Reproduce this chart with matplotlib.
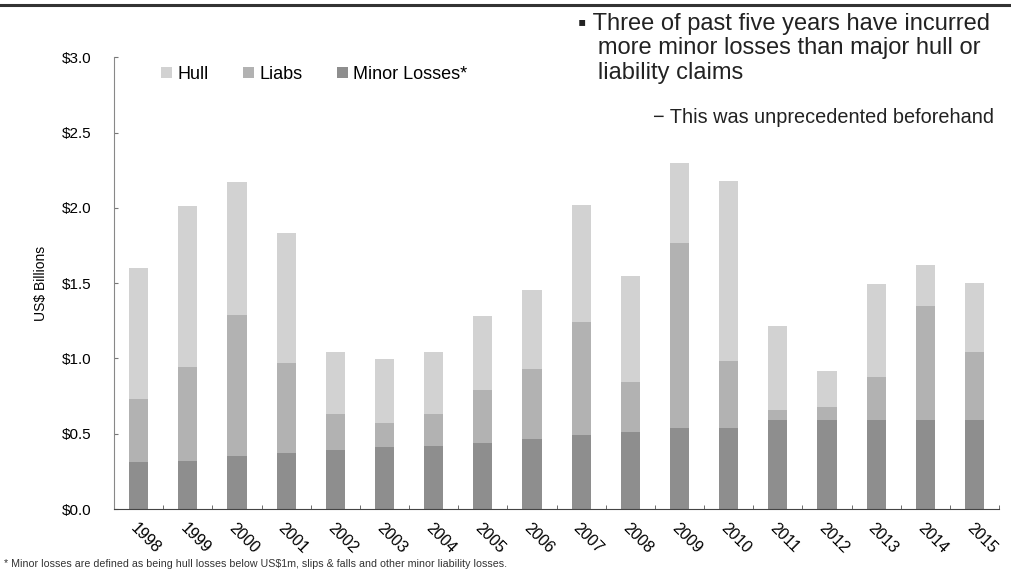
import matplotlib
matplotlib.use("Agg")
import matplotlib.pyplot as plt
import numpy as np

plt.rcParams['font.family'] = ['Liberation Sans', 'DejaVu Sans']

years = [str(y) for y in range(1998, 2016)]
# Stack boundaries per year: top of minor losses, top of liabilities, total
minor = [0.31, 0.32, 0.35, 0.37, 0.39, 0.41, 0.42, 0.44, 0.465, 0.49, 0.51, 0.54, 0.54, 0.59, 0.59, 0.59, 0.59, 0.59]
liabs_top = [0.73, 0.94, 1.29, 0.97, 0.63, 0.57, 0.63, 0.79, 0.93, 1.245, 0.845, 1.765, 0.98, 0.66, 0.68, 0.88, 1.345, 1.04]
totals = [1.60, 2.01, 2.17, 1.83, 1.04, 0.995, 1.04, 1.28, 1.455, 2.02, 1.545, 2.30, 2.18, 1.215, 0.915, 1.495, 1.62, 1.50]

liabs = [lt - m for lt, m in zip(liabs_top, minor)]
hull = [t - lt for t, lt in zip(totals, liabs_top)]

c_minor = '#8e8e8e'
c_liabs = '#b2b2b2'
c_hull = '#d2d2d2'

fig = plt.figure(figsize=(10.12, 5.72), dpi=100)
ax = fig.add_axes([0.1127, 0.110, 0.8745, 0.790])

x = np.arange(len(years))
w = 0.39
ax.bar(x, minor, w, color=c_minor, label='Minor Losses*')
ax.bar(x, liabs, w, bottom=minor, color=c_liabs, label='Liabs')
ax.bar(x, hull, w, bottom=liabs_top, color=c_hull, label='Hull')

ax.set_xlim(-0.5, len(years) - 0.5)
ax.set_ylim(0, 3.0)
ax.set_yticks(np.arange(0, 3.01, 0.5))
ax.set_yticklabels([f'${v:.1f}' for v in np.arange(0, 3.01, 0.5)], fontsize=11)
ax.tick_params(axis='y', direction='in', length=3, color='#777777', pad=16)

ax.set_xticks(x)
ax.set_xticklabels(years, rotation=-45, ha='left', va='top', rotation_mode='anchor', fontsize=11.5)
ax.tick_params(axis='x', length=0, pad=8)
ax.set_xticks(np.arange(-0.5, len(years), 1), minor=True)
ax.tick_params(axis='x', which='minor', direction='in', length=3, color='#555555')

for s in ['top', 'right']:
    ax.spines[s].set_visible(False)
ax.spines['left'].set_color('#888888')
ax.spines['bottom'].set_color('#444444')

ax.set_ylabel('US$ Billions', fontsize=10, labelpad=10)

handles, labels = ax.get_legend_handles_labels()
order = [2, 1, 0]
ax.legend([handles[i] for i in order], [labels[i] for i in order],
          loc='upper left', bbox_to_anchor=(0.035, 1.017), ncol=3, frameon=False,
          fontsize=13, handlelength=0.6, handleheight=0.6, handletextpad=0.3,
          columnspacing=1.9)

# Headline and notes
fig.add_artist(plt.Line2D([0, 1], [0.991, 0.991], color='#333333', lw=2.2))
fig.text(0.571, 0.978, '\u25aa Three of past five years have incurred\n   more minor losses than major hull or\n   liability claims',
         fontsize=17, va='top', ha='left', color='#222222', linespacing=1.16)
fig.text(0.982, 0.795, '\u2212 This was unprecedented beforehand', fontsize=14.3,
         va='center', ha='right', color='#222222')
fig.text(0.004, 0.006, '* Minor losses are defined as being hull losses below US$1m, slips & falls and other minor liability losses.',
         fontsize=7.7, ha='left', va='bottom', color='#333333')

fig.savefig('out.png', dpi=100)
